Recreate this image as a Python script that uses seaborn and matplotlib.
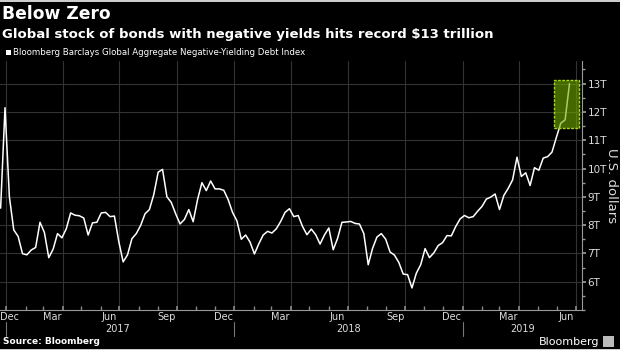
import pandas as pd
import seaborn as sns
import matplotlib.pyplot as plt
import matplotlib.dates as mdates
from matplotlib.patches import Rectangle
from matplotlib.ticker import MultipleLocator

# Bloomberg Barclays Global Aggregate Negative-Yielding Debt Index, weekly, $ trillions
start_date = "2016-12-23"
debt_value = [
    8.6, 12.15, 9.0, 7.83, 7.6, 6.99, 6.95, 7.12, 7.21, 8.1,
    7.74, 6.85, 7.15, 7.7, 7.55, 7.87, 8.43, 8.35, 8.33, 8.25,
    7.65, 8.08, 8.1, 8.43, 8.45, 8.3, 8.32, 7.42, 6.7, 6.95,
    7.52, 7.7, 7.99, 8.4, 8.55, 9.08, 9.87, 9.97, 9.0, 8.8,
    8.4, 8.04, 8.2, 8.55, 8.12, 8.9, 9.5, 9.22, 9.56, 9.28,
    9.28, 9.23, 8.9, 8.45, 8.15, 7.5, 7.65, 7.4, 6.98, 7.34,
    7.65, 7.78, 7.72, 7.87, 8.13, 8.45, 8.58, 8.3, 8.34, 7.95,
    7.66, 7.86, 7.66, 7.33, 7.65, 7.9, 7.13, 7.53, 8.1, 8.11,
    8.13, 8.06, 8.04, 7.7, 6.6, 7.18, 7.58, 7.7, 7.5, 7.05,
    6.94, 6.68, 6.27, 6.25, 5.78, 6.3, 6.6, 7.17, 6.85, 7.02,
    7.28, 7.38, 7.63, 7.62, 7.95, 8.22, 8.34, 8.26, 8.3, 8.49,
    8.66, 8.92, 8.99, 9.1, 8.55, 9.05, 9.3, 9.6, 10.4, 9.72,
    9.85, 9.4, 10.03, 9.94, 10.37, 10.42, 10.58, 11.1, 11.6, 11.72,
    13.0,
]
x_range = ("2016-12-22", "2019-07-11")
y_range = (5, 13.8)
y_ticks = [6, 7, 8, 9, 10, 11, 12, 13]
month_label_dates = ["2016-12-15", "2017-03-15", "2017-06-15", "2017-09-15",
                     "2017-12-15", "2018-03-15", "2018-06-15", "2018-09-15",
                     "2018-12-15", "2019-03-15", "2019-06-15"]
years = ["2017", "2018", "2019"]
# highlighted record area
box_dates = ("2019-05-28", "2019-07-07")
box_values = (11.44, 13.14)

df = pd.DataFrame({
    "date": pd.date_range(start_date, periods=len(debt_value), freq="7D"),
    "value": debt_value,
})

sns.set_theme(style="dark")
plt.rcParams["font.family"] = ["DejaVu Sans"]

fig = plt.figure(figsize=(6.2, 3.5), dpi=100, facecolor="black")
ax = fig.add_axes([0.0, 0.1143, 0.9387, 0.7114])
ax.set_facecolor("black")

sns.lineplot(data=df, x="date", y="value", color="white", linewidth=1.1, ax=ax)

xmin, xmax = pd.Timestamp(x_range[0]), pd.Timestamp(x_range[1])
ax.set_xlim(xmin, xmax)
ax.set_ylim(*y_range)

# record box
b0 = mdates.date2num(pd.Timestamp(box_dates[0]))
b1 = mdates.date2num(pd.Timestamp(box_dates[1]))
ax.add_patch(Rectangle((b0, box_values[0]), b1 - b0, box_values[1] - box_values[0],
                       facecolor=(0.45, 0.68, 0.0, 0.6), edgecolor="#a6d81e",
                       linestyle=(0, (2, 1)), linewidth=1.0, zorder=5))

# grid / ticks
ax.xaxis.set_major_locator(mdates.MonthLocator(bymonth=[1, 4, 7, 10]))
ax.xaxis.set_minor_locator(mdates.MonthLocator())
ax.set_xticklabels([])
ax.yaxis.tick_right()
ax.set_yticks(y_ticks)
ax.set_yticklabels([f"{t}T" for t in y_ticks])
ax.yaxis.set_minor_locator(MultipleLocator(0.5))
ax.grid(which="major", color="#333333", linewidth=0.8)
ax.grid(which="minor", visible=False)
ax.tick_params(axis="y", which="both", direction="out", color="#999999",
               labelcolor="#dddddd", labelsize=7.5, pad=1, right=True, left=False)
ax.tick_params(axis="y", which="major", length=3)
ax.tick_params(axis="y", which="minor", length=2)
ax.tick_params(axis="x", which="both", direction="in", color="#888888",
               length=3, bottom=True)
for side in ["left", "top"]:
    ax.spines[side].set_visible(False)
for side in ["right", "bottom"]:
    ax.spines[side].set_visible(True)
    ax.spines[side].set_color("#999999")
    ax.spines[side].set_linewidth(0.8)
ax.set_xlabel("")
ax.set_ylabel("U.S. dollars", color="#dddddd", fontsize=9.5, rotation=270, labelpad=8)
ax.yaxis.set_label_position("right")

# month and year labels under the axis
tr = ax.get_xaxis_transform()
for d in month_label_dates:
    ts = pd.Timestamp(d)
    if ts < xmin:
        ax.text(xmin, -0.03, ts.strftime("%b"), transform=tr, ha="left", va="center",
                color="#dddddd", fontsize=7)
    else:
        ax.text(ts, -0.03, ts.strftime("%b"), transform=tr, ha="center", va="center",
                color="#dddddd", fontsize=7)
edges = [xmin] + [pd.Timestamp(f"{y}-01-01") for y in years[1:]] + [xmax]
for i, y in enumerate(years):
    mid = edges[i] + (edges[i + 1] - edges[i]) / 2
    ax.text(mid, -0.078, y, transform=tr, ha="center", va="center",
            color="#dddddd", fontsize=7)
for y in years:
    ax.axvline(pd.Timestamp(f"{y}-01-01"), ymin=-0.105, ymax=-0.05, color="#777777",
               linewidth=0.8, clip_on=False)

# titles
fig.text(0.003, 0.96, "Below Zero", color="white", fontsize=12.3, fontweight="bold",
         ha="left", va="center")
fig.text(0.003, 0.902, "Global stock of bonds with negative yields hits record $13 trillion",
         color="white", fontsize=9.5, fontweight="bold", ha="left", va="center")
fig.patches.append(Rectangle((0.009, 0.842), 0.0085, 0.015, transform=fig.transFigure,
                             facecolor="white", edgecolor="none"))
fig.text(0.021, 0.849, "Bloomberg Barclays Global Aggregate Negative-Yielding Debt Index",
         color="white", fontsize=6.2, ha="left", va="center")
fig.text(0.005, 0.023, "Source: Bloomberg", color="white", fontsize=6.5,
         fontweight="bold", ha="left", va="center")
fig.text(0.967, 0.023, "Bloomberg", color="white", fontsize=8, ha="right", va="center")
fig.patches.append(Rectangle((0.973, 0.01), 0.018, 0.03, transform=fig.transFigure,
                             facecolor="#bbbbbb", edgecolor="none"))
# thin light borders of the original screenshot
fig.patches.append(Rectangle((0, 0.994), 1, 0.006, transform=fig.transFigure,
                             facecolor="#cccccc", edgecolor="none"))
fig.patches.append(Rectangle((0, 0), 1, 0.004, transform=fig.transFigure,
                             facecolor="#cccccc", edgecolor="none"))

fig.savefig("out.png", dpi=100, facecolor=fig.get_facecolor())
